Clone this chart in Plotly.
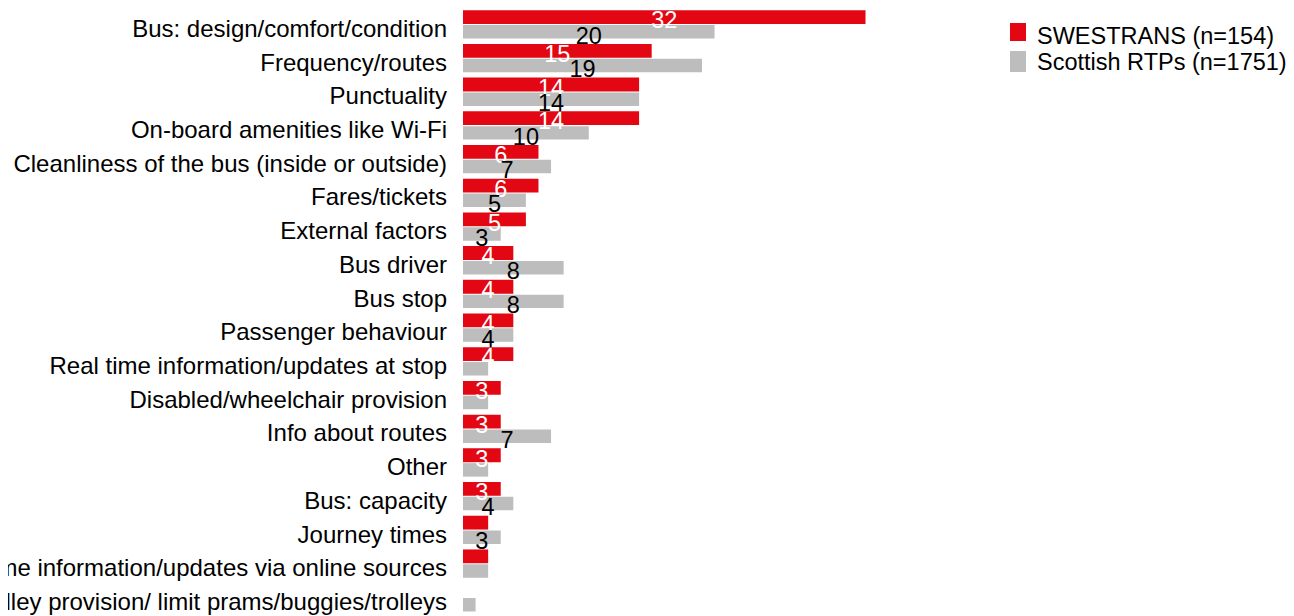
import plotly.graph_objects as go
import numpy as np

categories = [
    "Bus: design/comfort/condition",
    "Frequency/routes",
    "Punctuality",
    "On-board amenities like Wi-Fi",
    "Cleanliness of the bus (inside or outside)",
    "Fares/tickets",
    "External factors",
    "Bus driver",
    "Bus stop",
    "Passenger behaviour",
    "Real time information/updates at stop",
    "Disabled/wheelchair provision",
    "Info about routes",
    "Other",
    "Bus: capacity",
    "Journey times",
    "Real time information/updates via online sources",
    "Trolley provision/ limit prams/buggies/trolleys",
]
swestrans = [32, 15, 14, 14, 6, 6, 5, 4, 4, 4, 4, 3, 3, 3, 3, 2, 2, 0]
scottish_rtps = [20, 19, 14, 10, 7, 5, 3, 8, 8, 4, 2, 2, 7, 2, 4, 3, 2, 1]
series_names = ["SWESTRANS (n=154)", "Scottish RTPs (n=1751)"]

RED = "#E30613"
GREY = "#BDBDBD"
FONT = "Arial, Liberation Sans, sans-serif"

W, H = 1286, 608
ML, MR = 455, 331
PW = W - ML - MR

idx = np.arange(len(categories))


def labels(vals):
    return [str(v) if v >= 3 else "" for v in vals]


def px_x(x):  # page px -> paper
    return (x - 8 - ML) / PW


def px_y(y):
    return 1 - (y - 8) / H


fig = go.Figure()
fig.add_trace(go.Bar(
    y=idx, x=swestrans, orientation="h", name=series_names[0],
    marker=dict(color=RED, line=dict(width=0)),
    width=0.41, offset=-0.425, showlegend=False,
))
fig.add_trace(go.Bar(
    y=idx, x=scottish_rtps, orientation="h", name=series_names[1],
    marker=dict(color=GREY, line=dict(width=0)),
    width=0.40, offset=0.015, showlegend=False,
))
fig.add_trace(go.Scatter(
    y=idx - 0.06, x=[v / 2 for v in swestrans], mode="text",
    text=labels(swestrans), textposition="middle center",
    textfont=dict(color="white", size=23.5, family=FONT),
    showlegend=False, hoverinfo="skip",
))
fig.add_trace(go.Scatter(
    y=idx + 0.39, x=[v / 2 for v in scottish_rtps], mode="text",
    text=labels(scottish_rtps), textposition="middle center",
    textfont=dict(color="black", size=23.5, family=FONT),
    showlegend=False, hoverinfo="skip",
))

# custom legend
legend_items = [(series_names[0], RED, 23, 41, 36), (series_names[1], GREY, 51, 72, 62)]
for name, col, y0, y1, ty in legend_items:
    fig.add_shape(type="rect", xref="paper", yref="paper",
                  x0=px_x(1010), x1=px_x(1026), y0=px_y(y1), y1=px_y(y0),
                  fillcolor=col, line=dict(width=0))
    fig.add_annotation(xref="paper", yref="paper", x=px_x(1035), y=px_y(ty),
                       xanchor="left", yanchor="middle", text=name, showarrow=False,
                       font=dict(size=23.5, family=FONT, color="black"))

fig.update_layout(
    width=W, height=H,
    margin=dict(l=ML, r=MR, t=0, b=0, autoexpand=False),
    paper_bgcolor="white", plot_bgcolor="white",
    font=dict(family=FONT, size=23, color="black"),
    showlegend=False,
    xaxis=dict(range=[0, 39.75], showticklabels=False, showgrid=False,
               zeroline=False, showline=False, fixedrange=True),
    yaxis=dict(range=[17.55, -0.49], tickvals=idx + 0.12, ticktext=categories,
               showgrid=False, zeroline=False, showline=False, ticks="",
               ticklabelstandoff=15, automargin=False,
               tickfont=dict(size=24, family=FONT, color="black")),
)

fig.write_html("out.html")
